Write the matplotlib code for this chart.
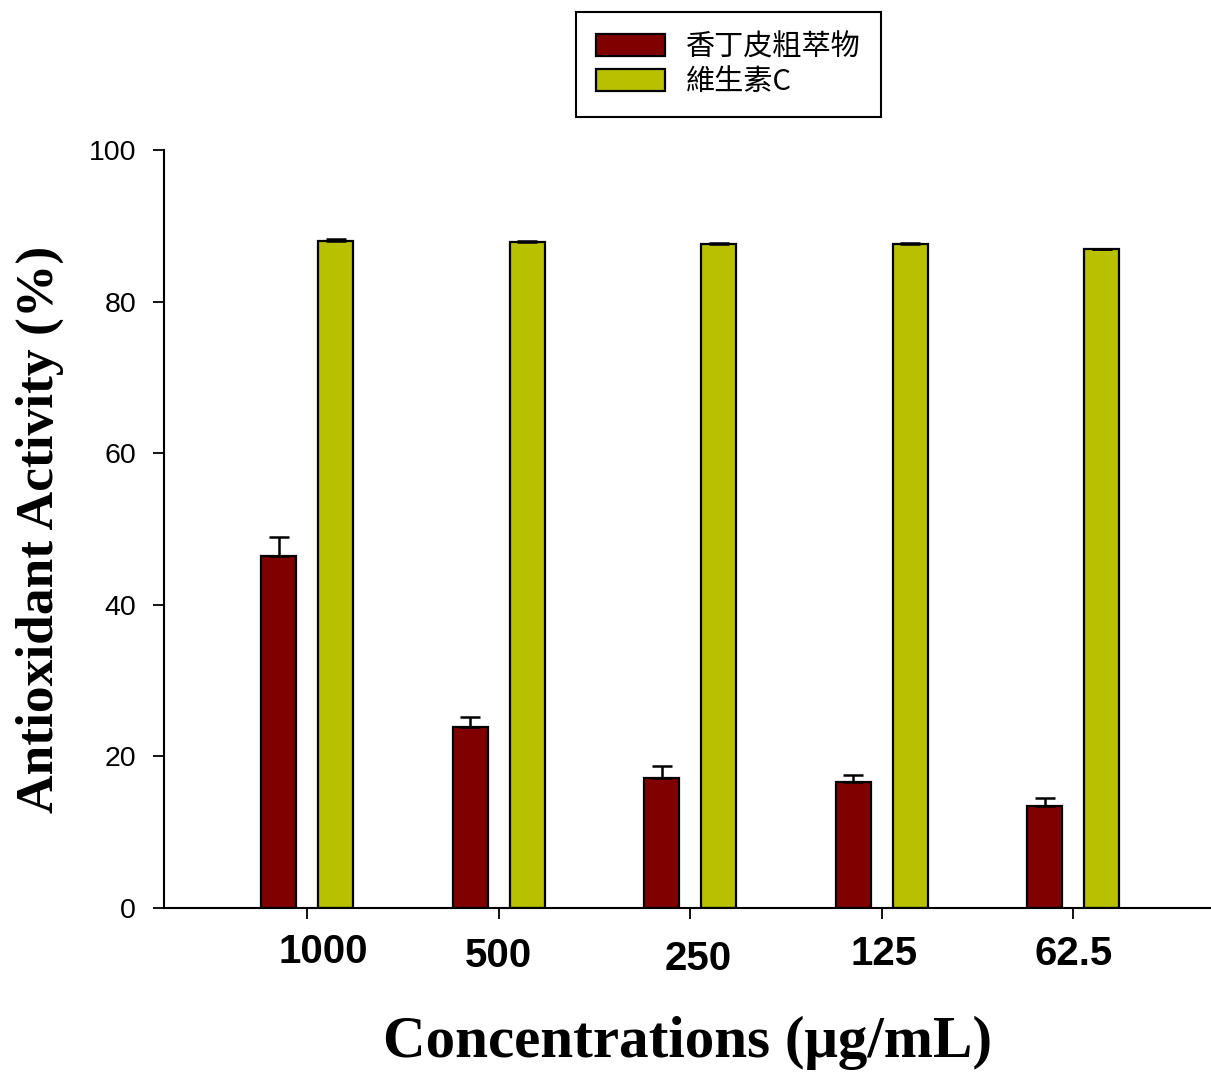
import matplotlib.pyplot as plt
import numpy as np
from matplotlib.transforms import ScaledTranslation

# data
concs = ["1000", "500", "250", "125", "62.5"]
extract = [46.5, 23.9, 17.2, 16.6, 13.5]
extract_err = [2.4, 1.3, 1.5, 0.9, 1.0]
vitc = [88.0, 87.9, 87.6, 87.6, 86.9]
vitc_err = [0.2, 0.1, 0.1, 0.1, 0.1]
legend_names = ["香丁皮粗萃物", "維生素C"]

fig = plt.figure(figsize=(12.11, 10.73), dpi=100)
ax = fig.add_axes([0.1354, 0.1538, 0.864, 0.7064])

x = np.arange(len(concs))
w = 0.183
off = 0.149
ekw = dict(elinewidth=1.8, capthick=1.8, ecolor="black")
ax.bar(x - off, extract, w, color="#800000", edgecolor="black", linewidth=1.6,
       yerr=[np.zeros(len(x)), extract_err], capsize=7.5, error_kw=ekw,
       label=legend_names[0])
ax.bar(x + off, vitc, w, color="#b8c000", edgecolor="black", linewidth=1.6,
       yerr=[np.zeros(len(x)), vitc_err], capsize=7.5, error_kw=ekw,
       label=legend_names[1])

ax.set_xlim(-0.747, 4.715)
ax.set_ylim(0, 100)
ax.set_yticks([0, 20, 40, 60, 80, 100])
ax.set_xticks(x)
ax.set_xticklabels(concs, fontsize=29, fontweight="bold",
                   family=["Liberation Sans Narrow", "Liberation Sans", "DejaVu Sans"])
ax.tick_params(axis="x", length=8, width=1.3, pad=10)
ax.tick_params(axis="y", length=8, width=1.3, pad=12)
for lab in ax.get_yticklabels():
    lab.set_fontsize(20.5)
    lab.set_family(["Liberation Sans", "DejaVu Sans"])

# the labels in the original sit a bit off, shift them in pixels
shifts = [(16, 0), (0, -4), (8, -7), (2, -2), (0, -2)]
for lab, (dx, dy) in zip(ax.get_xticklabels(), shifts):
    lab.set_transform(lab.get_transform() +
                      ScaledTranslation(dx / 100, dy / 100, fig.dpi_scale_trans))

for s in ["top", "right"]:
    ax.spines[s].set_visible(False)
for s in ["left", "bottom"]:
    ax.spines[s].set_linewidth(1.5)

ax.set_ylabel("Antioxidant Activity (%)", fontsize=38.5, fontweight="bold",
              family=["Liberation Serif", "DejaVu Serif"], labelpad=18)
ax.set_xlabel("Concentrations (μg/mL)", fontsize=42.5, fontweight="bold",
              family=["Liberation Serif", "DejaVu Serif"], labelpad=27)

leg = fig.legend(loc="upper left", bbox_to_anchor=(576 / 1211, 1 - 12 / 1073),
                 fancybox=False, edgecolor="black", framealpha=1,
                 prop={"family": ["Noto Sans CJK TC", "DejaVu Sans"], "size": 21},
                 handlelength=2.35, handleheight=0.8, borderpad=0.7,
                 labelspacing=0.15, handletextpad=0.72, borderaxespad=0)
leg.get_frame().set_linewidth(1.5)

fig.savefig("out.png", dpi=100)
